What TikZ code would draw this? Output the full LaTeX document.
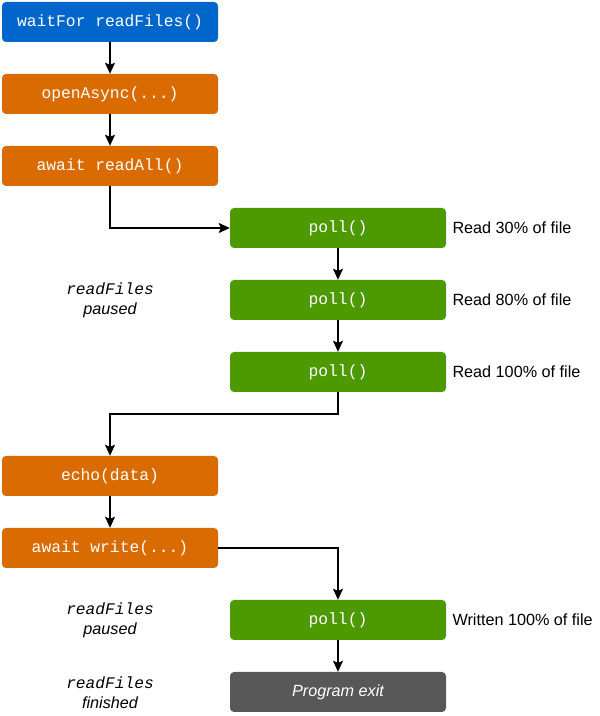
\documentclass[tikz,border=0pt]{standalone}
\usepackage{fontspec}
\setmainfont{Liberation Sans}
\setmonofont{Liberation Mono}
\usetikzlibrary{arrows.meta}

\definecolor{callblue}{HTML}{0066CC}
\definecolor{callorange}{HTML}{D96B00}
\definecolor{pollgreen}{HTML}{4D9900}
\definecolor{exitgray}{HTML}{585858}

\begin{document}
\begin{tikzpicture}[x=1pt,y=1pt,
  box/.style={rounded corners=4pt, minimum width=216pt, minimum height=40pt,
    text=white, font=\fontsize{16.3}{19}\selectfont\ttfamily},
  note/.style={anchor=west, font=\fontsize{16.2}{19}\selectfont},
  state/.style={align=center, font=\fontsize{16.2}{20}\selectfont},
  flow/.style={line width=1.5pt, -{Stealth[length=11pt,width=10pt,inset=2pt]}}]

\useasboundingbox (0,0) rectangle (600,716);

% left column
\node[box, fill=callblue] (wait) at (110,694) {waitFor readFiles()};
\node[box, fill=callorange] (open) at (110,622) {openAsync(...)};
\node[box, fill=callorange] (readall) at (110,550) {await readAll()};
\node[box, fill=callorange] (echo) at (110,240) {echo(data)};
\node[box, fill=callorange] (write) at (110,168) {await write(...)};

% right column
\node[box, fill=pollgreen] (poll1) at (338,488) {poll()};
\node[box, fill=pollgreen] (poll2) at (338,416) {poll()};
\node[box, fill=pollgreen] (poll3) at (338,344) {poll()};
\node[box, fill=pollgreen] (poll4) at (338,96) {poll()};
\node[box, fill=exitgray, font=\fontsize{16.2}{19}\selectfont\itshape] (exit) at (338,24) {Program exit};

\node[note] (n1) at (449,488) {Read 30\% of file};
\node[note] (n2) at (449,416) {Read 80\% of file};
\node[note] (n3) at (449,344) {Read 100\% of file};
\node[note] (n4) at (449,96) {Written 100\% of file};

\node[state] (s1) at (110,416) {\ttfamily\itshape readFiles\\\itshape paused};
\node[state] (s2) at (110,96) {\ttfamily\itshape readFiles\\\itshape paused};
\node[state] (s3) at (110,23) {\ttfamily\itshape readFiles\\\itshape finished};

\coordinate (turn) at (338,302);

\draw[flow] (wait) -- (open);
\draw[flow] (open) -- (readall);
\draw[flow] (readall.south) |- (poll1.west);
\draw[flow] (poll1) -- (poll2);
\draw[flow] (poll2) -- (poll3);
\draw[flow] (poll3.south) -- (turn) -| (echo.north);
\draw[flow] (echo) -- (write);
\draw[flow] (write.east) -| (poll4.north);
\draw[flow] (poll4) -- (exit);

\end{tikzpicture}
\end{document}
